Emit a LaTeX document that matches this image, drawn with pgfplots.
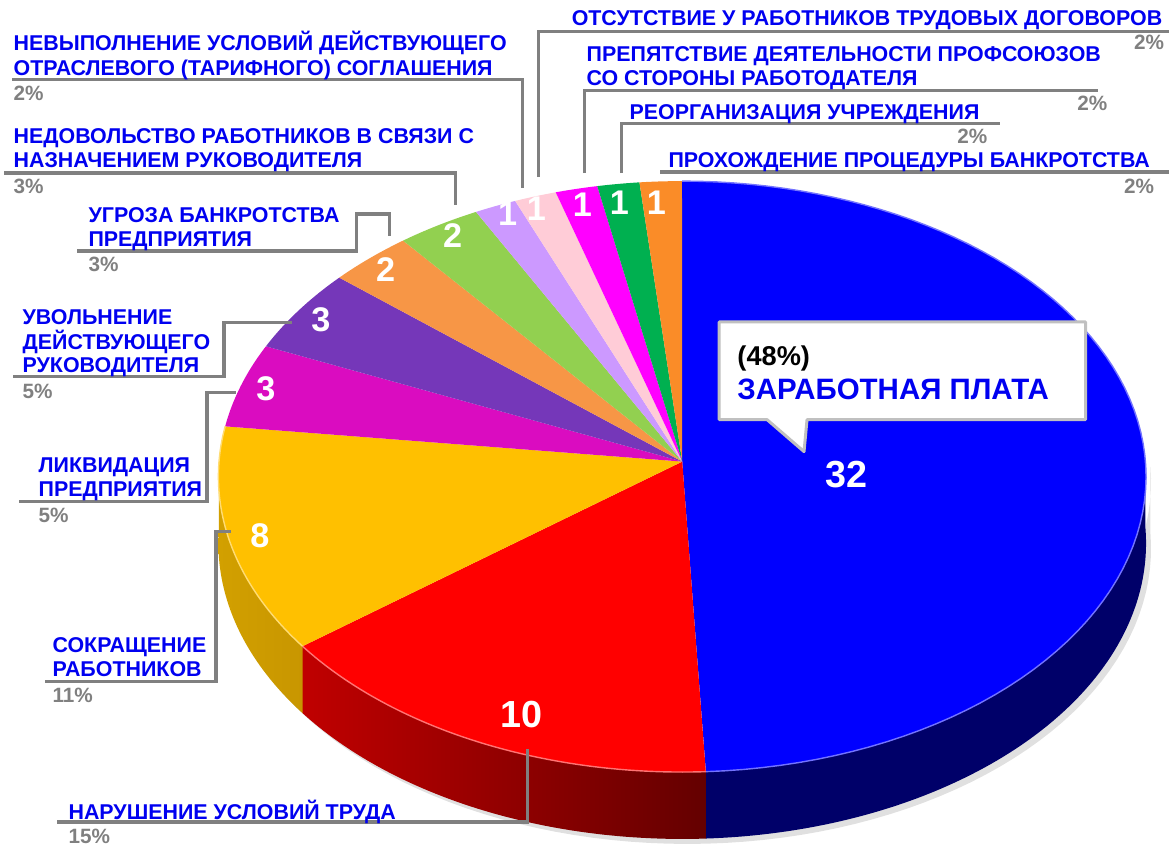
\documentclass[border=0pt]{standalone}
\usepackage{fontspec}
\setmainfont{Liberation Sans}
\usepackage{pgfplots}
\pgfplotsset{compat=1.18}

\definecolor{cBlue}{RGB}{0,0,255}
\definecolor{cRed}{RGB}{255,0,0}
\definecolor{cYel}{RGB}{255,192,0}
\definecolor{cMag}{RGB}{218,12,192}
\definecolor{cPur}{RGB}{117,55,185}
\definecolor{cOra}{RGB}{247,150,70}
\definecolor{cLgr}{RGB}{146,208,80}
\definecolor{cLav}{RGB}{204,153,255}
\definecolor{cPnk}{RGB}{255,204,215}
\definecolor{cMg2}{RGB}{255,0,255}
\definecolor{cGrn}{RGB}{0,176,80}
\definecolor{cOr2}{RGB}{250,140,40}
\definecolor{sBlue}{RGB}{0,0,105}
\definecolor{sRedL}{RGB}{192,0,0}
\definecolor{sRedR}{RGB}{100,0,0}
\definecolor{sYelL}{RGB}{210,160,0}
\definecolor{sYelR}{RGB}{200,150,0}
\definecolor{lblue}{RGB}{0,0,240}
\definecolor{pgray}{RGB}{128,128,128}
\definecolor{boxgray}{RGB}{192,192,192}

% data: number of cases per category (clockwise from the top)
\pgfmathsetmacro\total{32+10+8+3+3+2+2+1+1+1+1+1}
\pgfmathsetmacro\tA{90}
\pgfmathsetmacro\tB{\tA-32/\total*360}
\pgfmathsetmacro\tC{\tB-10/\total*360}
\pgfmathsetmacro\tD{\tC-8/\total*360}
\pgfmathsetmacro\tE{\tD-3/\total*360}
\pgfmathsetmacro\tF{\tE-3/\total*360}
\pgfmathsetmacro\tG{\tF-2/\total*360}
\pgfmathsetmacro\tH{\tG-2/\total*360}
\pgfmathsetmacro\tI{\tH-1/\total*360}
\pgfmathsetmacro\tJ{\tI-1/\total*360}
\pgfmathsetmacro\tK{\tJ-1/\total*360}
\pgfmathsetmacro\tL{\tK-1/\total*360}
\pgfmathsetmacro\tM{\tL-1/\total*360}

\newcommand\lab{\fontsize{12.2}{14}\selectfont\bfseries}
\newcommand\pct{\fontsize{11.8}{13}\selectfont\bfseries}
\newcommand\num{\fontsize{19.5}{22}\selectfont\bfseries}
\newcommand\bignum{\fontsize{21.5}{24}\selectfont\bfseries}

\tikzset{
  lb/.style={anchor=base west, inner sep=0pt, text=lblue, font=\lab},
  pc/.style={anchor=base west, inner sep=0pt, text=pgray, font=\pct},
  pce/.style={anchor=base east, inner sep=0pt, text=pgray, font=\pct},
  ldr/.style={draw=pgray, line width=1.8pt},
  nm/.style={inner sep=0pt, text=white, font=\num},
}

\newcommand\topwedge[3]{\addplot[fill=#3,draw=none,samples at={0,1,...,80,81}] ({wx(x,#1,#2)},{wy(x,#1,#2)});}
\newcommand\rim[3]{\addplot[draw=#3!55!white,line width=0.8pt,samples at={0,1,...,80}] ({wx(x,#1,#2)},{wy(x,#1,#2)});}

\begin{document}
\begin{tikzpicture}
\begin{axis}[
  width=23.42cm, height=16.94cm, scale only axis, hide axis,
  xmin=0, xmax=1171, ymin=0, ymax=847, y dir=reverse, clip=false,
  declare function={
    ex(\t)=464*cos(\t)/(1+0.0507*sin(\t));
    ey(\t)=-295.2*sin(\t)/(1+0.0507*sin(\t));
    wang(\s,\a,\b)=\a+(\b-\a)*min(\s,80)/80;
    wx(\s,\a,\b)=683+(\s<80.5)*ex(wang(\s,\a,\b));
    wy(\s,\a,\b)=462+(\s<80.5)*ey(wang(\s,\a,\b));
    sang(\s,\a,\b)=(\s<80.5)*(\a+(\b-\a)*\s/80)+(\s>80.5)*(\b-(\b-\a)*(\s-100)/80);
    sx(\s,\a,\b)=683+ex(sang(\s,\a,\b));
    sy(\s,\a,\b)=462+ey(sang(\s,\a,\b))+(\s>80.5)*67;
  },
]
\draw[white, opacity=0] (rel axis cs:0,0) rectangle (rel axis cs:1,1);

% soft shadow
\addplot[fill=black, opacity=0.12, draw=none, samples at={0,1,...,80,100,101,...,180}] ({sx(x,-180,0)+5},{sy(x,-180,0)+5});

% sides
\addplot[fill=sBlue, draw=none, samples at={0,1,...,80,100,101,...,180}] ({sx(x,\tB,0)},{sy(x,\tB,0)});
\addplot[left color=sRedL, right color=sRedR, draw=none, samples at={0,1,...,80,100,101,...,180}] ({sx(x,\tC,\tB)},{sy(x,\tC,\tB)});
\addplot[left color=sYelL, right color=sYelR, draw=none, samples at={0,1,...,80,100,101,...,180}] ({sx(x,-180,\tC)},{sy(x,-180,\tC)});

% top faces
\topwedge{\tA}{\tB}{cBlue}
\topwedge{\tB}{\tC}{cRed}
\topwedge{\tC}{\tD}{cYel}
\topwedge{\tD}{\tE}{cMag}
\topwedge{\tE}{\tF}{cPur}
\topwedge{\tF}{\tG}{cOra}
\topwedge{\tG}{\tH}{cLgr}
\topwedge{\tH}{\tI}{cLav}
\topwedge{\tI}{\tJ}{cPnk}
\topwedge{\tJ}{\tK}{cMg2}
\topwedge{\tK}{\tL}{cGrn}
\topwedge{\tL}{\tM}{cOr2}
\rim{\tA}{\tB}{cBlue}
\rim{\tB}{\tC}{cRed}
\rim{\tC}{\tD}{cYel}

% value labels
\node[nm] at (axis cs:657,203) {1};
\node[nm] at (axis cs:620,203) {1};
\node[nm] at (axis cs:583,205) {1};
\node[nm] at (axis cs:537,209) {1};
\node[nm] at (axis cs:508,214) {1};
\node[nm] at (axis cs:453,236) {2};
\node[nm] at (axis cs:386,270) {2};
\node[nm] at (axis cs:321,320) {3};
\node[nm] at (axis cs:266,389) {3};
\node[nm] at (axis cs:260,536) {8};
\node[nm, font=\bignum] at (axis cs:522,715) {10};
\node[nm, font=\bignum] at (axis cs:848,475) {32};

% leader lines
\draw[ldr] (axis cs:12,79) -- (axis cs:523,79) -- (axis cs:523,188);
\draw[ldr] (axis cs:539,177) -- (axis cs:539,31) -- (axis cs:1171,31);
\draw[ldr] (axis cs:585,173) -- (axis cs:585,90) -- (axis cs:1099,90);
\draw[ldr] (axis cs:622,173) -- (axis cs:622,123) -- (axis cs:1001,123);
\draw[ldr] (axis cs:661,172) -- (axis cs:1171,172);
\draw[ldr] (axis cs:4,173) -- (axis cs:456,173) -- (axis cs:456,205);
\draw[ldr] (axis cs:77,251) -- (axis cs:357,251) -- (axis cs:357,214) -- (axis cs:390,214) -- (axis cs:390,236);
\draw[ldr] (axis cs:13,377) -- (axis cs:224,377) -- (axis cs:224,323) -- (axis cs:292,323);
\draw[ldr] (axis cs:19,502) -- (axis cs:207,502) -- (axis cs:207,393) -- (axis cs:236,393);
\draw[ldr] (axis cs:45,682) -- (axis cs:216,682) -- (axis cs:216,532) -- (axis cs:231,532);
\draw[ldr] (axis cs:57,823) -- (axis cs:528,823) -- (axis cs:528,750);

% category labels
\node[lb] at (axis cs:13,50) {НЕВЫПОЛНЕНИЕ УСЛОВИЙ ДЕЙСТВУЮЩЕГО};
\node[lb] at (axis cs:13,75) {ОТРАСЛЕВОГО (ТАРИФНОГО) СОГЛАШЕНИЯ};
\node[pc] at (axis cs:13,100) {2\%};
\node[lb] at (axis cs:572,25) {ОТСУТСТВИЕ У РАБОТНИКОВ ТРУДОВЫХ ДОГОВОРОВ};
\node[pce] at (axis cs:1166,49) {2\%};
\node[lb] at (axis cs:587,61) {ПРЕПЯТСТВИЕ ДЕЯТЕЛЬНОСТИ ПРОФСОЮЗОВ};
\node[lb] at (axis cs:587,85) {СО СТОРОНЫ РАБОТОДАТЕЛЯ};
\node[pce] at (axis cs:1109,110) {2\%};
\node[lb] at (axis cs:630,119) {РЕОРГАНИЗАЦИЯ УЧРЕЖДЕНИЯ};
\node[pce] at (axis cs:989,143) {2\%};
\node[lb] at (axis cs:669,167) {ПРОХОЖДЕНИЕ ПРОЦЕДУРЫ БАНКРОТСТВА};
\node[pce] at (axis cs:1156,193) {2\%};
\node[lb] at (axis cs:13,143) {НЕДОВОЛЬСТВО РАБОТНИКОВ В СВЯЗИ С};
\node[lb] at (axis cs:13,167) {НАЗНАЧЕНИЕМ РУКОВОДИТЕЛЯ};
\node[pc] at (axis cs:13,193) {3\%};
\node[lb] at (axis cs:88,223) {УГРОЗА БАНКРОТСТВА};
\node[lb] at (axis cs:88,247) {ПРЕДПРИЯТИЯ};
\node[pc] at (axis cs:88,272) {3\%};
\node[lb] at (axis cs:22,325) {УВОЛЬНЕНИЕ};
\node[lb] at (axis cs:22,350) {ДЕЙСТВУЮЩЕГО};
\node[lb] at (axis cs:22,373) {РУКОВОДИТЕЛЯ};
\node[pc] at (axis cs:22,399) {5\%};
\node[lb] at (axis cs:38,473) {ЛИКВИДАЦИЯ};
\node[lb] at (axis cs:38,497) {ПРЕДПРИЯТИЯ};
\node[pc] at (axis cs:38,523) {5\%};
\node[lb] at (axis cs:52,653) {СОКРАЩЕНИЕ};
\node[lb] at (axis cs:52,677) {РАБОТНИКОВ};
\node[pc] at (axis cs:52,703) {11\%};
\node[lb] at (axis cs:68,820) {НАРУШЕНИЕ УСЛОВИЙ ТРУДА};
\node[pc] at (axis cs:68,845) {15\%};

% callout
\draw[fill=white, draw=boxgray, line width=1.7pt, line join=round]
  (axis cs:720,322) -- (axis cs:1087,322) -- (axis cs:1087,420) -- (axis cs:808,420)
  -- (axis cs:805,452) -- (axis cs:768,420) -- (axis cs:720,420) -- cycle;
\node[anchor=base west, inner sep=0pt, font=\fontsize{15.5}{18}\selectfont\bfseries] at (axis cs:738,366) {(48\%)};
\node[anchor=base west, inner sep=0pt, text=lblue, font=\fontsize{16.8}{20}\selectfont\bfseries] at (axis cs:738,400) {ЗАРАБОТНАЯ ПЛАТА};
\end{axis}
\end{tikzpicture}
\end{document}
